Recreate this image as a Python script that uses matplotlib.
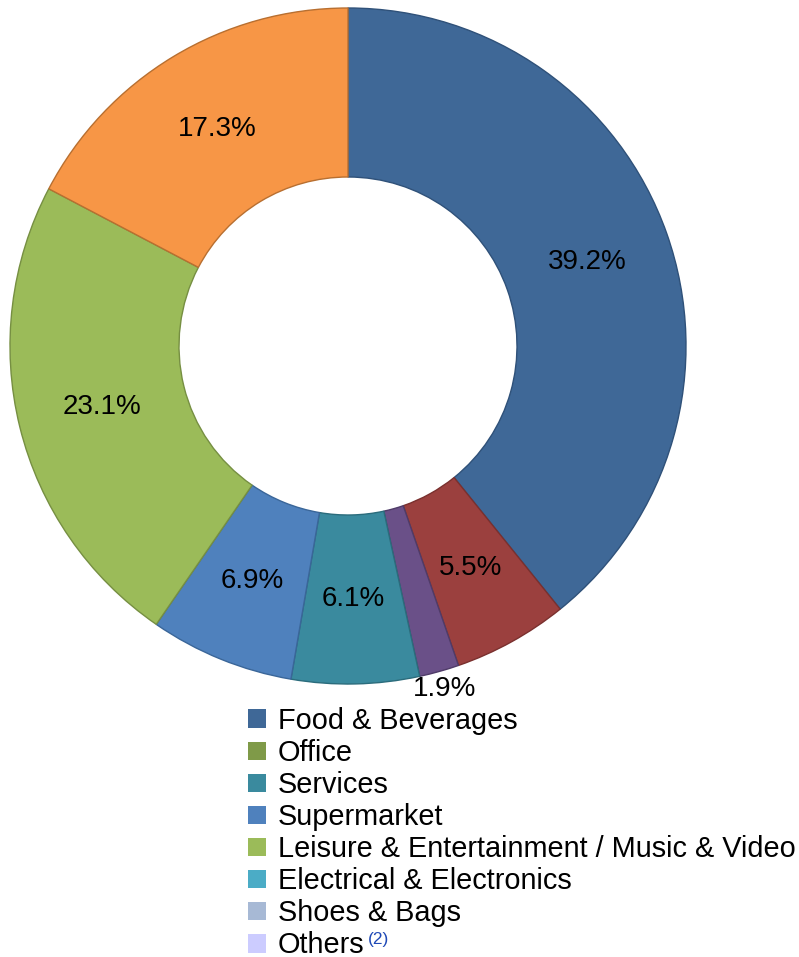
import matplotlib.pyplot as plt
from matplotlib.patches import Patch
import numpy as np

plt.rcParams['font.family'] = ['Liberation Sans', 'DejaVu Sans']

# Доли сегментов по часовой стрелке от верха
shares = [39.2, 5.5, 1.9, 6.1, 6.9, 23.1, 17.3]
slice_colors = ['#3F6897', '#9B403E', '#6A5088', '#3A8A9E', '#4F81BD', '#9BBB59', '#F79646']
edge_colors = ['#2F5179', '#7A302E', '#4F3B68', '#2B6C7C', '#3A6699', '#768F42', '#B86F30']

# Подписи легенды
legend_labels = ['Food & Beverages', 'Office', 'Services', 'Supermarket',
                 'Leisure & Entertainment / Music & Video',
                 'Electrical & Electronics', 'Shoes & Bags', 'Others']
legend_colors = ['#3F6897', '#7F9A48', '#3A8A9E', '#4F81BD', '#9BBB59',
                 '#4BACC6', '#A7B9D5', '#CCCCFF']

W, H = 799, 957
fig = plt.figure(figsize=(W / 100, H / 100), dpi=100)
cx, cy, R = 348, 346, 338
ax = fig.add_axes([(cx - R) / W, (H - cy - R) / H, 2 * R / W, 2 * R / H])

wedges, _ = ax.pie(shares, colors=slice_colors, startangle=90, counterclock=False,
                   radius=1.0, wedgeprops=dict(width=0.5, linewidth=1.0))
for w, ec in zip(wedges, edge_colors):
    w.set_edgecolor(ec)
ax.set_xlim(-1, 1)
ax.set_ylim(-1, 1)

# Подписи процентов: внутри кольца, мелкий сегмент — снаружи
for w, v in zip(wedges, shares):
    ang = np.deg2rad((w.theta1 + w.theta2) / 2)
    r = 0.75 if v > 3 else 1.055
    ax.text(r * np.cos(ang), r * np.sin(ang), f'{v}%', ha='center', va='center',
            fontsize=20)

handles = [Patch(facecolor=c, edgecolor='none') for c in legend_colors]
leg = fig.legend(handles, legend_labels, loc='upper left',
                 bbox_to_anchor=(248 / W, 1 - 707 / H), frameon=False,
                 fontsize=20.8, handlelength=0.62, handleheight=0.62,
                 handletextpad=0.42, labelspacing=0.14, borderpad=0,
                 borderaxespad=0)

# Сноска (2) после «Others»
fig.canvas.draw()
bb = leg.get_texts()[-1].get_window_extent()
fig.text((bb.x1 + 3) / W, (bb.y1 - 1) / H, '(2)', color='#1F49B6', fontsize=12.5,
         ha='left', va='top')

fig.savefig('out.png', dpi=100)
